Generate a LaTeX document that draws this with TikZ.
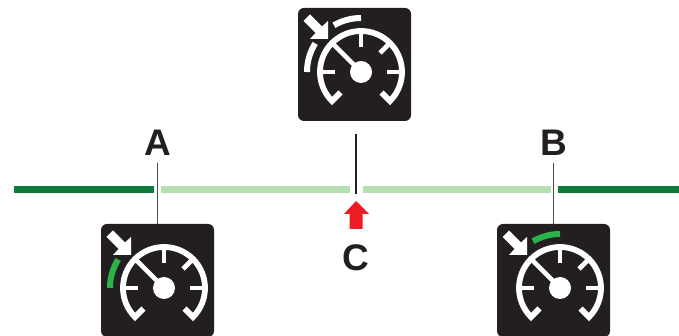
\documentclass[tikz,border=0pt]{standalone}
\usepackage{fontspec}
\setmainfont{Liberation Sans}
\definecolor{ink}{HTML}{231F20}
\definecolor{darkgreen}{HTML}{0F7B3E}
\definecolor{lightgreen}{HTML}{B5DFB0}
\definecolor{brightgreen}{HTML}{2BB34A}
\definecolor{alertred}{HTML}{ED1C24}
\tikzset{
  iconbox/.style={fill=ink,draw=none,rounded corners=6pt,minimum width=113pt,minimum height=113pt,inner sep=0pt,outer sep=0pt},
  dial/.style={draw=white,line width=5.8pt,line join=miter,miter limit=10},
  tickmark/.style={draw=white,line width=4.8pt},
  bar/.style={line width=7pt},
  lab/.style={font=\bfseries\fontsize{37}{37}\selectfont,text=ink,inner sep=0pt,outer sep=0pt},
  leader/.style={draw=ink!80,line width=1.1pt},
  setarc/.style={line width=6pt},
}
\newcommand{\gaugeicon}[5]{% name, cx, cy(from top), style left arc, style top arc
  \node[iconbox] (#1) at (#2-6.5,336-#3+7.5) {};
  \begin{scope}[shift={(#2,336-#3)}]
    \draw[dial] (225:29) -- (225:41) arc[start angle=225,end angle=-45,radius=41] -- (-45:29);
    \draw[tickmark] (180:41) -- (180:26);
    \draw[tickmark] (90:41) -- (90:25);
    \draw[tickmark] (45:41) -- (45:27);
    \draw[tickmark] (0:41) -- (0:26);
    \draw[white,line width=4.6pt] (135:41) -- (0,0);
    \fill[white] (0,0) circle[radius=11];
    \fill[white] (-33,33) -- (-33,51) -- (-39,45.5) -- (-51,57.5) -- (-57.5,51) -- (-45.5,39) -- (-51,33) -- cycle;
    \path[#4,setarc] (180:54) arc[start angle=180,end angle=148,radius=54];
    \path[#5,setarc] (120:54) arc[start angle=120,end angle=90,radius=54];
  \end{scope}
}
\begin{document}
\begin{tikzpicture}[x=1pt,y=1pt]
  \useasboundingbox (0,0) rectangle (679,336);
  \fill[white] (0,0) rectangle (679,336);
  % bars
  \coordinate (barL) at (14,146.5);
  \coordinate (barA1) at (154,146.5);
  \coordinate (barA2) at (161,146.5);
  \coordinate (barC1) at (349.5,146.5);
  \coordinate (barC2) at (363,146.5);
  \coordinate (barB1) at (551,146.5);
  \coordinate (barB2) at (558,146.5);
  \coordinate (barR) at (679,146.5);
  \draw[bar,darkgreen] (barL) -- (barA1);
  \draw[bar,lightgreen] (barA2) -- (barC1);
  \draw[bar,lightgreen] (barC2) -- (barB1);
  \draw[bar,darkgreen] (barB2) -- (barR);
  % icons
  \gaugeicon{iconA}{164}{288}{draw=brightgreen}{}
  \gaugeicon{iconC}{361}{72}{draw=white}{draw=white}
  \gaugeicon{iconB}{560}{288}{}{draw=brightgreen}
  % labels
  \node[lab] (labA) at (158,336-143) {A};
  \node[lab] (labB) at (554,336-143) {B};
  \node[lab] (labC) at (356,336-258) {C};
  % leaders
  \coordinate (topA) at (iconA.north |- 0,173);
  \coordinate (topB) at (iconB.north |- 0,173);
  \coordinate (topC) at (356,202);
  \coordinate (endC) at (356,142);
  \draw[leader] (topA) -- (iconA.north);
  \draw[leader] (topB) -- (iconB.north);
  \draw[draw=ink,line width=2.6pt] (topC) -- (endC);
  % red arrow
  \fill[alertred] (356,135) -- (369,122) -- (362.5,122) -- (362.5,107) -- (349.5,107) -- (349.5,122) -- (344,122) -- cycle;
\end{tikzpicture}
\end{document}
